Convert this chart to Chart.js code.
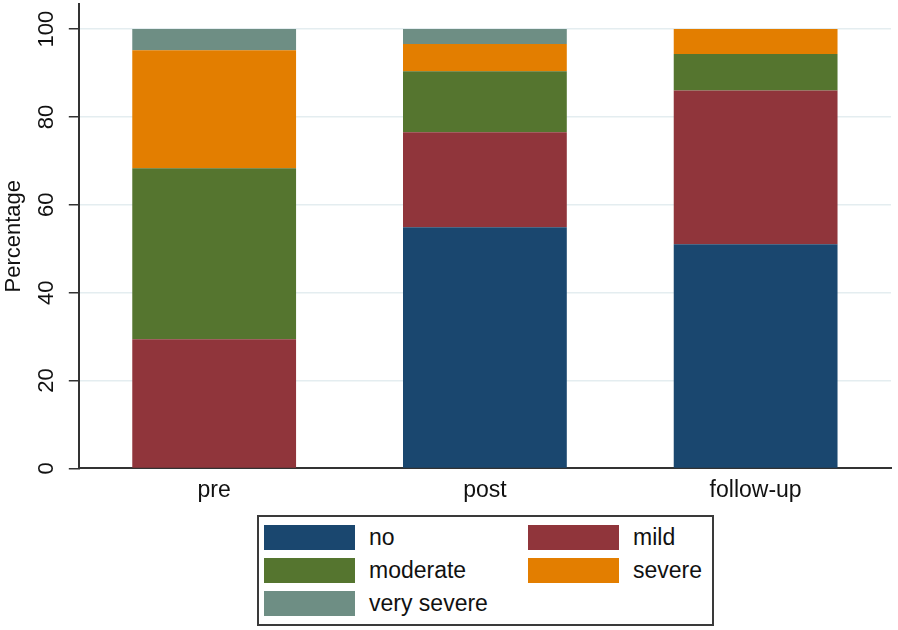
<!DOCTYPE html>
<html>
<head>
<meta charset="utf-8">
<script src="https://cdn.jsdelivr.net/npm/chart.js@4"></script>
<style>
  html, body { margin: 0; padding: 0; background: #fff; }
  #wrap { position: relative; width: 898px; height: 630px; }
  #legend { position: absolute; left: 257px; top: 515px; width: 453px; height: 107px;
            border: 2px solid #3a3a3a; background: #fff; font-family: "Liberation Sans", Arial, sans-serif; }
  .item { position: absolute; height: 25px; display: flex; align-items: center; font-size: 23px; color: #111; }
  .sw { width: 91px; height: 25px; margin-right: 14px; }
</style>
</head>
<body>
<div id="wrap">
  <canvas id="c" width="898" height="630"></canvas>
  <div id="legend"></div>
</div>
<script>
const categories = ["pre", "post", "follow-up"];
const seriesNames = ["no", "mild", "moderate", "severe", "very severe"];
const noVals = [0, 54.9, 51.0];
const mildVals = [29.4, 21.6, 35.0];
const moderateVals = [38.9, 13.9, 8.3];
const severeVals = [26.9, 6.2, 5.7];
const verySevereVals = [4.8, 3.4, 0];
const yTicks = [0, 20, 40, 60, 80, 100];
const colors = ["#1a476f", "#90353b", "#55752f", "#e37e00", "#6e8e84"];

const seriesValues = [noVals, mildVals, moderateVals, severeVals, verySevereVals];
const FONT = '"Liberation Sans", Arial, sans-serif';

const chart = new Chart(document.getElementById('c'), {
  type: 'bar',
  data: {
    labels: categories,
    datasets: seriesNames.map((n, i) => ({
      label: n,
      data: seriesValues[i],
      backgroundColor: colors[i],
      borderWidth: 0,
      barPercentage: 1,
      categoryPercentage: 0.605
    }))
  },
  options: {
    responsive: false,
    animation: false,
    layout: { padding: { left: 0, right: 7, top: 4, bottom: 118 } },
    plugins: { legend: { display: false }, tooltip: { enabled: false } },
    scales: {
      x: {
        stacked: true,
        grid: { display: true, drawOnChartArea: false, drawTicks: false },
        border: { display: true, color: '#333', width: 2 },
        ticks: { color: '#111', font: { family: FONT, size: 23 }, padding: 8 }
      },
      y: {
        stacked: true,
        min: 0,
        max: 105.7,
        afterBuildTicks: (scale) => { scale.ticks = yTicks.map(v => ({ value: v })); },
        afterFit: (scale) => { scale.paddingTop = 0; scale.paddingBottom = 0; },
        grid: {
          color: (ctx) => ctx.tick && ctx.tick.value === 0 ? 'rgba(0,0,0,0)' : '#e4edf0',
          lineWidth: 1.5,
          tickColor: '#333',
          tickWidth: 1.5,
          tickLength: 10
        },
        border: { display: true, color: '#333', width: 2 },
        ticks: {
          color: '#111',
          font: { family: FONT, size: 22 },
          minRotation: 90, maxRotation: 90,
          crossAlign: 'center',
          padding: 4
        },
        title: {
          display: true, text: 'Percentage', color: '#111',
          font: { family: FONT, size: 22 },
          padding: { top: 1, bottom: 7 }
        }
      }
    }
  }
});

const legend = document.getElementById('legend');
const pos = [[5, 8], [269, 8], [5, 41], [269, 41], [5, 74]];
seriesNames.forEach((n, i) => {
  const d = document.createElement('div');
  d.className = 'item';
  d.style.left = pos[i][0] + 'px';
  d.style.top = pos[i][1] + 'px';
  const s = document.createElement('div');
  s.className = 'sw';
  s.style.background = chart.data.datasets[i].backgroundColor;
  const t = document.createElement('span');
  t.textContent = n;
  d.appendChild(s); d.appendChild(t);
  legend.appendChild(d);
});
</script>
</body>
</html>
